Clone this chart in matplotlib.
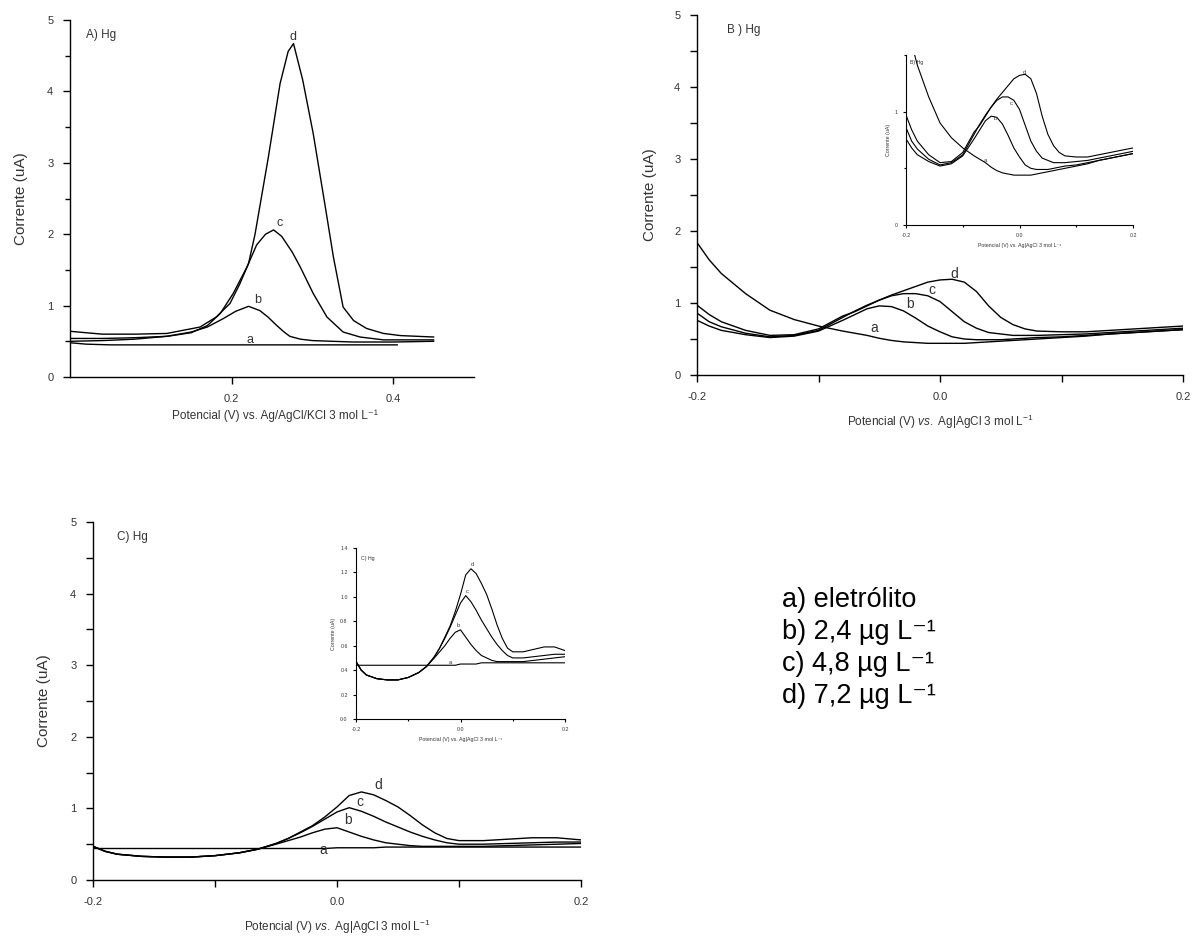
import matplotlib
matplotlib.use("Agg")
import matplotlib.pyplot as plt
from matplotlib.ticker import MultipleLocator, FixedLocator, FixedFormatter, FormatStrFormatter

plt.rcParams['font.family'] = ['Liberation Sans', 'DejaVu Sans']
plt.rcParams['mathtext.fontset'] = 'custom'
plt.rcParams['mathtext.rm'] = 'Liberation Sans'
plt.rcParams['mathtext.it'] = 'Liberation Sans:italic'

# ---- panel A (x in V, y in uA)
A_a_x = [0.0, 0.02, 0.05, 0.10, 0.15, 0.20, 0.25, 0.30, 0.35, 0.405]
A_a_y = [0.48, 0.46, 0.45, 0.45, 0.45, 0.45, 0.45, 0.45, 0.45, 0.45]
A_b_x = [0.0, 0.04, 0.08, 0.12, 0.15, 0.17, 0.19, 0.205, 0.221, 0.235, 0.245, 0.256,
         0.265, 0.272, 0.285, 0.30, 0.35, 0.40, 0.45]
A_b_y = [0.50, 0.51, 0.53, 0.57, 0.63, 0.70, 0.82, 0.92, 0.99, 0.93, 0.84, 0.72,
         0.63, 0.57, 0.53, 0.51, 0.49, 0.49, 0.50]
A_c_x = [0.0, 0.04, 0.08, 0.12, 0.15, 0.17, 0.186, 0.202, 0.219, 0.231, 0.242, 0.252,
         0.262, 0.275, 0.285, 0.301, 0.318, 0.338, 0.359, 0.388, 0.45]
A_c_y = [0.54, 0.54, 0.55, 0.57, 0.62, 0.72, 0.89, 1.17, 1.54, 1.85, 2.00, 2.06,
         1.97, 1.75, 1.54, 1.17, 0.84, 0.63, 0.56, 0.52, 0.52]
A_d_x = [0.0, 0.04, 0.08, 0.12, 0.161, 0.181, 0.198, 0.21, 0.221, 0.229, 0.2455, 0.26,
         0.27, 0.2766, 0.288, 0.301, 0.316, 0.326, 0.338, 0.351, 0.367, 0.388, 0.409, 0.45]
A_d_y = [0.64, 0.60, 0.60, 0.61, 0.70, 0.84, 1.03, 1.30, 1.59, 2.00, 3.08, 4.11,
         4.56, 4.67, 4.16, 3.41, 2.38, 1.68, 0.98, 0.79, 0.68, 0.61, 0.58, 0.56]

# ---- panel B
B_x = [-0.2, -0.19, -0.18, -0.16, -0.14, -0.12, -0.10, -0.08, -0.07, -0.06, -0.05, -0.04,
       -0.03, -0.02, -0.01, 0.0, 0.01, 0.02, 0.03, 0.04, 0.05, 0.06, 0.07, 0.08,
       0.10, 0.12, 0.14, 0.16, 0.18, 0.20]
B_a = [1.84, 1.60, 1.41, 1.13, 0.90, 0.77, 0.68, 0.61, 0.58, 0.55, 0.51, 0.48,
       0.46, 0.45, 0.44, 0.44, 0.44, 0.44, 0.45, 0.46, 0.47, 0.48, 0.49, 0.50,
       0.52, 0.54, 0.57, 0.59, 0.61, 0.63]
B_b = [0.76, 0.68, 0.62, 0.56, 0.52, 0.54, 0.61, 0.76, 0.84, 0.92, 0.96, 0.95,
       0.89, 0.79, 0.68, 0.60, 0.53, 0.50, 0.49, 0.49, 0.49, 0.50, 0.51, 0.52,
       0.53, 0.55, 0.57, 0.59, 0.61, 0.63]
B_c = [0.86, 0.74, 0.67, 0.58, 0.53, 0.55, 0.62, 0.80, 0.89, 0.97, 1.04, 1.10,
       1.13, 1.13, 1.10, 1.02, 0.88, 0.74, 0.65, 0.59, 0.57, 0.55, 0.55, 0.55,
       0.56, 0.57, 0.59, 0.61, 0.63, 0.65]
B_d = [0.97, 0.84, 0.74, 0.62, 0.55, 0.56, 0.64, 0.82, 0.88, 0.96, 1.04, 1.11,
       1.17, 1.23, 1.29, 1.32, 1.33, 1.29, 1.16, 0.96, 0.80, 0.70, 0.64, 0.61,
       0.60, 0.60, 0.62, 0.64, 0.66, 0.68]

# ---- panel C
C_x = [-0.2, -0.19, -0.18, -0.16, -0.14, -0.12, -0.10, -0.08, -0.065, -0.05, -0.04, -0.03,
       -0.02, -0.01, 0.0, 0.01, 0.02, 0.03, 0.04, 0.05, 0.06, 0.07, 0.08, 0.09,
       0.10, 0.12, 0.14, 0.16, 0.18, 0.20]
C_a = [0.44, 0.44, 0.44, 0.44, 0.44, 0.44, 0.44, 0.44, 0.44, 0.44, 0.44, 0.44,
       0.44, 0.44, 0.45, 0.45, 0.45, 0.45, 0.46, 0.46, 0.46, 0.46, 0.46, 0.46,
       0.46, 0.46, 0.46, 0.46, 0.46, 0.46]
C_b = [0.47, 0.40, 0.36, 0.33, 0.32, 0.32, 0.34, 0.38, 0.43, 0.50, 0.55, 0.60,
       0.66, 0.71, 0.73, 0.67, 0.61, 0.56, 0.52, 0.50, 0.48, 0.47, 0.47, 0.47,
       0.47, 0.47, 0.48, 0.49, 0.50, 0.51]
C_c = [0.47, 0.40, 0.36, 0.33, 0.32, 0.32, 0.34, 0.38, 0.43, 0.51, 0.58, 0.66,
       0.75, 0.85, 0.95, 1.01, 0.96, 0.89, 0.81, 0.74, 0.67, 0.61, 0.56, 0.52,
       0.50, 0.50, 0.51, 0.52, 0.53, 0.53]
C_d = [0.47, 0.40, 0.36, 0.33, 0.32, 0.32, 0.34, 0.38, 0.43, 0.51, 0.58, 0.67,
       0.76, 0.88, 1.02, 1.18, 1.23, 1.19, 1.11, 1.02, 0.90, 0.77, 0.66, 0.58,
       0.55, 0.55, 0.57, 0.59, 0.59, 0.56]

legend_lines = ['a) eletrólito', 'b) 2,4 µg L⁻¹', 'c) 4,8 µg L⁻¹', 'd) 7,2 µg L⁻¹']

W, H = 1199, 939
TXT = '#333333'
XLAB_BC = 'Potencial (V) $\\mathit{vs.}$ Ag|AgCl 3 mol L$^{-1}$'


def box(l, r, t, b):
    return [l / W, 1 - b / H, (r - l) / W, (b - t) / H]


def style(ax, fs, tl, lw=1.0):
    for s in ('top', 'right'):
        ax.spines[s].set_visible(False)
    for s in ('left', 'bottom'):
        ax.spines[s].set_linewidth(lw)
    ax.tick_params(direction='out', length=tl, width=lw, labelsize=fs,
                   labelcolor=TXT, pad=tl + 2)
    ax.tick_params(which='minor', direction='out', length=tl * 0.7, width=lw)


def pm_axis(ax, fs, tl, lw=1.0):
    ax.set_xlim(-0.2, 0.2)
    ax.xaxis.set_major_locator(FixedLocator([-0.2, 0.0, 0.2]))
    ax.xaxis.set_major_formatter(FixedFormatter(['-0.2', '0.0', '0.2']))
    ax.xaxis.set_minor_locator(FixedLocator([-0.1, 0.1]))
    style(ax, fs, tl, lw)


fig = plt.figure(figsize=(W / 100, H / 100), dpi=100)

# A
axA = fig.add_axes(box(70, 474, 20, 377))
for xs, ys in [(A_a_x, A_a_y), (A_b_x, A_b_y), (A_c_x, A_c_y), (A_d_x, A_d_y)]:
    axA.plot(xs, ys, color='black', lw=1.0)
axA.set_xlim(0, 0.5)
axA.set_ylim(0, 5)
axA.xaxis.set_major_locator(FixedLocator([0.2, 0.4]))
axA.xaxis.set_major_formatter(FixedFormatter(['0.2', '0.4']))
axA.yaxis.set_major_locator(MultipleLocator(1))
axA.yaxis.set_minor_locator(MultipleLocator(0.5))
style(axA, 8, 5)
axA.text(0.02, 4.75, 'A) Hg', fontsize=8.5, color=TXT)
for x, y, s in [(0.223, 0.47, 'a'), (0.232, 1.04, 'b'), (0.26, 2.12, 'c'), (0.276, 4.72, 'd')]:
    axA.text(x, y, s, fontsize=9, color=TXT, ha='center')
axA.set_ylabel('Corrente (uA)', fontsize=11, color=TXT)
axA.yaxis.set_label_coords(-0.105, 0.5)
axA.set_xlabel('Potencial (V) vs. Ag/AgCl/KCl 3 mol L⁻¹', fontsize=8.5, color=TXT)
axA.xaxis.set_label_coords(205 / 404, -0.09)

# B
axB = fig.add_axes(box(697, 1183, 15, 375))
for ys in (B_a, B_b, B_c, B_d):
    axB.plot(B_x, ys, color='black', lw=1.0)
axB.set_ylim(0, 5)
axB.yaxis.set_major_locator(MultipleLocator(1))
axB.yaxis.set_minor_locator(MultipleLocator(0.5))
pm_axis(axB, 8, 5)
axB.tick_params(which='minor', length=5)
axB.text(-0.175, 4.75, 'B ) Hg', fontsize=8.5, color=TXT)
for x, y, s in [(-0.054, 0.6, 'a'), (-0.025, 0.93, 'b'), (-0.007, 1.13, 'c'), (0.012, 1.35, 'd')]:
    axB.text(x, y, s, fontsize=10, color=TXT, ha='center')
axB.set_ylabel('Corrente (uA)', fontsize=11, color=TXT, labelpad=12)
axB.set_xlabel(XLAB_BC, fontsize=8.5, color=TXT, labelpad=8)

# B inset
axBi = fig.add_axes(box(906, 1133, 55, 225))
for ys in (B_a, B_b, B_c, B_d):
    axBi.plot(B_x, ys, color='black', lw=0.8)
axBi.set_ylim(0, 1.5)
axBi.yaxis.set_major_locator(MultipleLocator(1))
axBi.yaxis.set_minor_locator(MultipleLocator(0.5))
pm_axis(axBi, 3.8, 2, 0.8)
axBi.text(-0.193, 1.42, 'B) Hg', fontsize=3.8, color=TXT)
for x, y, s in [(-0.06, 0.56, 'a'), (-0.043, 0.93, 'b'), (-0.015, 1.06, 'c'), (0.009, 1.33, 'd')]:
    axBi.text(x, y, s, fontsize=4.2, color=TXT, ha='center')
axBi.set_ylabel('Corrente (uA)', fontsize=3.8, color=TXT, labelpad=3)
axBi.set_xlabel('Potencial (V) vs. Ag|AgCl 3 mol L⁻¹', fontsize=3.8, color=TXT, labelpad=3)

# C
axC = fig.add_axes(box(93, 581, 522, 880))
for ys in (C_a, C_b, C_c, C_d):
    axC.plot(C_x, ys, color='black', lw=1.0)
axC.set_ylim(0, 5)
axC.yaxis.set_major_locator(MultipleLocator(1))
axC.yaxis.set_minor_locator(MultipleLocator(0.5))
pm_axis(axC, 8, 5)
axC.tick_params(which='minor', length=5)
axC.text(-0.18, 4.75, 'C) Hg', fontsize=8.5, color=TXT)
for x, y, s in [(-0.011, 0.36, 'a'), (0.009, 0.78, 'b'), (0.019, 1.03, 'c'), (0.034, 1.27, 'd')]:
    axC.text(x, y, s, fontsize=10, color=TXT, ha='center')
axC.set_ylabel('Corrente (uA)', fontsize=11, color=TXT, labelpad=14)
axC.set_xlabel(XLAB_BC, fontsize=8.5, color=TXT, labelpad=8)

# C inset
axCi = fig.add_axes(box(356, 565, 548, 719))
for ys in (C_a, C_b, C_c, C_d):
    axCi.plot(C_x, ys, color='black', lw=0.8)
axCi.set_ylim(0, 1.4)
axCi.yaxis.set_major_locator(MultipleLocator(0.2))
axCi.yaxis.set_major_formatter(FormatStrFormatter('%.1f'))
pm_axis(axCi, 3.8, 2, 0.8)
axCi.text(-0.19, 1.3, 'C) Hg', fontsize=3.8, color=TXT)
for x, y, s in [(-0.02, 0.45, 'a'), (-0.005, 0.75, 'b'), (0.012, 1.03, 'c'), (0.022, 1.25, 'd')]:
    axCi.text(x, y, s, fontsize=4.2, color=TXT, ha='center')
axCi.set_ylabel('Corrente (uA)', fontsize=3.8, color=TXT, labelpad=3)
axCi.set_xlabel('Potencial (V) vs. Ag|AgCl 3 mol L⁻¹', fontsize=3.8, color=TXT, labelpad=3)

# legend text
for i, s in enumerate(legend_lines):
    fig.text(782 / W, 1 - (600 + i * 32) / H, s, fontsize=19.5, color='black', va='center')

fig.savefig('out.png', dpi=100)
